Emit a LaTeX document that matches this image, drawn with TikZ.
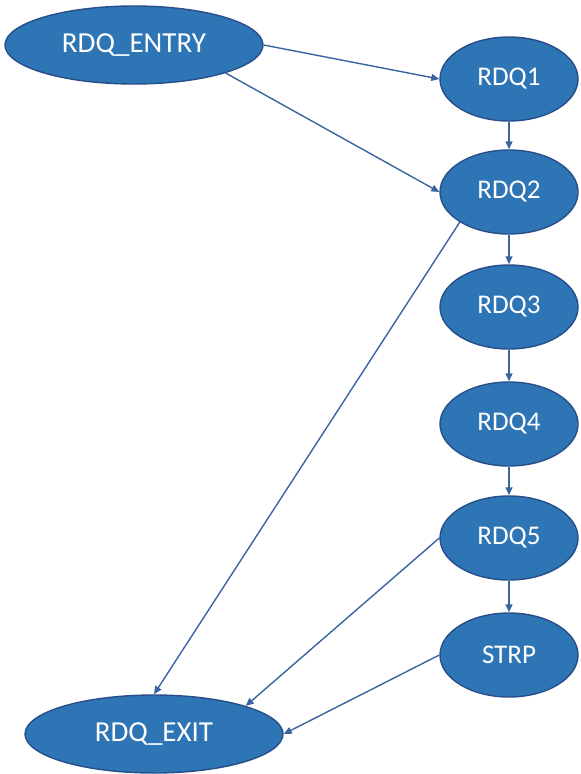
\documentclass[tikz,border=0pt]{standalone}
\usepackage{fontspec}
\setmainfont{Carlito}
\usetikzlibrary{shapes.geometric,arrows.meta}
\definecolor{stepfill}{RGB}{46,117,182}
\definecolor{stepline}{RGB}{40,78,138}
\definecolor{linkcol}{RGB}{58,100,160}
\tikzset{
  stage/.style={ellipse, draw=stepline, line width=1.4pt, fill=stepfill,
    text=white, inner sep=0pt},
  bigstage/.style={stage, minimum width=258pt, minimum height=78pt,
    font=\fontsize{29}{32}\selectfont},
  smallstage/.style={stage, minimum width=138pt, minimum height=84pt,
    font=\fontsize{27}{30}\selectfont},
  link/.style={draw=linkcol, line width=1.4pt,
    -{Triangle[length=8pt,width=7pt]}}
}
\begin{document}
\begin{tikzpicture}[x=1pt,y=-1pt]
\useasboundingbox (0,0) rectangle (581,774);
\node[bigstage]   (entry) at (134,45)  {RDQ\_ENTRY};
\node[bigstage]   (exit)  at (154,734) {RDQ\_EXIT};
\node[smallstage] (q1)    at (509,79)  {RDQ1};
\node[smallstage] (q2)    at (509,192) {RDQ2};
\node[smallstage] (q3)    at (509,307) {RDQ3};
\node[smallstage] (q4)    at (509,424) {RDQ4};
\node[smallstage] (q5)    at (509,538) {RDQ5};
\node[smallstage] (strp)  at (509,655) {STRP};

\draw[link] (entry.east) -- (q1.west);
\draw[link] (entry.south east) -- (q2.west);
\draw[link] (q1.south) -- (q2.north);
\draw[link] (q2.south) -- (q3.north);
\draw[link] (q3.south) -- (q4.north);
\draw[link] (q4.south) -- (q5.north);
\draw[link] (q5.south) -- (strp.north);
\draw[link] (q2.south west) -- (exit.north);
\draw[link] (q5.west) -- (exit.north east);
\draw[link] (strp.west) -- (exit.east);
\end{tikzpicture}
\end{document}
